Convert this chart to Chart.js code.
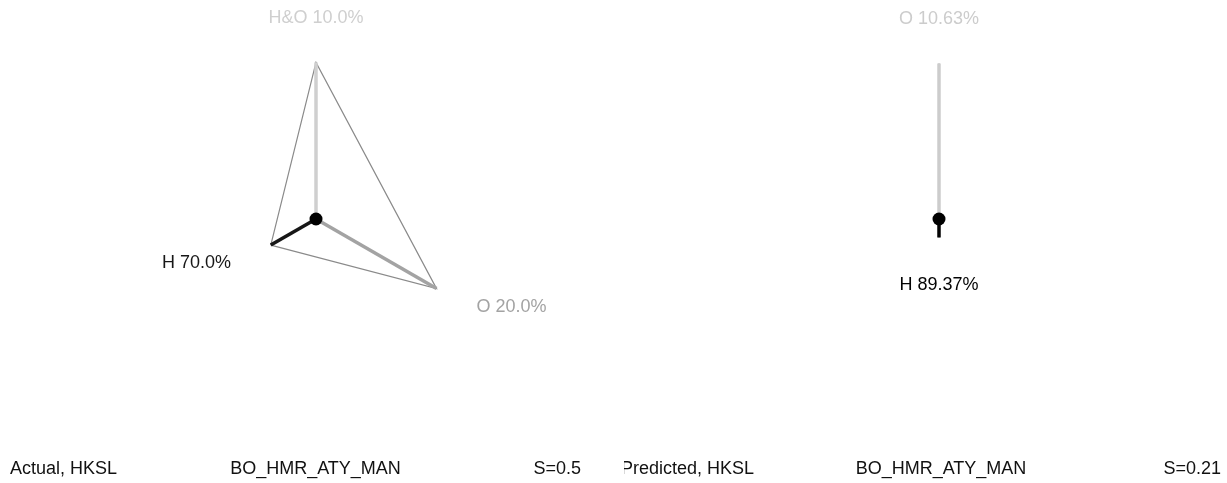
<!DOCTYPE html>
<html>
<head>
<meta charset="utf-8">
<script src="https://cdn.jsdelivr.net/npm/chart.js@4/dist/chart.umd.min.js"></script>
<style>
  html, body { margin: 0; padding: 0; background: #fff; }
  #wrap { position: relative; width: 1227px; height: 483px; overflow: hidden; }
  #wrap canvas { position: absolute; top: 0; }
</style>
</head>
<body>
<div id="wrap">
  <canvas id="actual" width="624" height="483" style="left:0"></canvas>
  <canvas id="predicted" width="603" height="483" style="left:624px"></canvas>
</div>
<script>
// Composition shares (percent) for each panel
const actualLabels = ['H', 'O', 'H&O'];
const actualShares = [70.0, 20.0, 10.0];
const actualDecimals = 1;
const actualCaption = ['Actual, HKSL', 'BO_HMR_ATY_MAN', 'S=0.5'];

const predictedLabels = ['H', 'O'];
const predictedShares = [89.37, 10.63];
const predictedDecimals = 2;
const predictedCaption = ['Predicted, HKSL', 'BO_HMR_ATY_MAN', 'S=0.21'];

const FONT = '"Liberation Sans", Arial, Helvetica, sans-serif';
const PX_PER_UNIT = 174;     // spoke length for a 0% share
const LABEL_GAP = 46;        // distance from spoke tip to its label

// Darker grey for larger shares
function greyFor(share) {
  const g = Math.round(255 * Math.pow(1 - share / 100, 2));
  return `rgb(${g},${g},${g})`;
}

// Evenly spaced directions, last category pointing straight up
function directions(n) {
  const out = [];
  for (let i = 0; i < n; i++) {
    const a = (90 - (n - 1 - i) * 360 / n) * Math.PI / 180;
    out.push({ x: Math.cos(a), y: Math.sin(a) });
  }
  return out;
}

function buildPanel(canvasId, labels, shares, decimals, caption, centerX, centerY, captionX) {
  const canvas = document.getElementById(canvasId);
  const w = canvas.width, h = canvas.height;
  const dirs = directions(labels.length);
  const tips = shares.map((s, i) => ({
    x: (1 - s / 100) * dirs[i].x,
    y: (1 - s / 100) * dirs[i].y
  }));

  const datasets = [];
  // centre marker
  datasets.push({
    data: [{ x: 0, y: 0 }],
    pointRadius: 6.5,
    pointBackgroundColor: '#000',
    pointBorderWidth: 0,
    showLine: false
  });
  // one spoke per category
  tips.forEach((t, i) => {
    datasets.push({
      data: [{ x: 0, y: 0 }, t],
      showLine: true,
      borderColor: greyFor(shares[i]),
      borderWidth: 3.5,
      borderCapStyle: 'butt',
      pointRadius: 0
    });
  });
  // outline through the spoke tips
  datasets.push({
    data: tips.concat([tips[0]]),
    showLine: true,
    borderColor: '#8a8a8a',
    borderWidth: 1.2,
    pointRadius: 0
  });

  const labelPlugin = {
    id: 'tipLabels',
    afterDatasetsDraw(chart) {
      const ctx = chart.ctx;
      const xs = chart.scales.x, ys = chart.scales.y;
      ctx.save();
      ctx.font = `18px ${FONT}`;
      tips.forEach((t, i) => {
        const vertical = Math.abs(dirs[i].x) < 0.01;
        const px = xs.getPixelForValue(t.x) + LABEL_GAP * dirs[i].x;
        const py = ys.getPixelForValue(t.y) - LABEL_GAP * dirs[i].y + (vertical ? 2 : 0);
        ctx.textAlign = vertical ? 'center' : (dirs[i].x < 0 ? 'right' : 'left');
        ctx.textBaseline = vertical ? 'middle' : 'alphabetic';
        ctx.fillStyle = greyFor(shares[i]);
        ctx.fillText(`${labels[i]} ${shares[i].toFixed(decimals)}%`, px, py);
      });
      // caption row
      ctx.fillStyle = '#111';
      ctx.textBaseline = 'middle';
      const cy = 469;
      ctx.textAlign = 'left';
      ctx.fillText(caption[0], captionX[0], cy);
      ctx.textAlign = 'center';
      ctx.fillText(caption[1], captionX[1], cy);
      ctx.textAlign = 'right';
      ctx.fillText(caption[2], captionX[2], cy);
      ctx.restore();
    }
  };

  return new Chart(canvas, {
    type: 'scatter',
    data: { datasets },
    options: {
      responsive: false,
      animation: false,
      events: [],
      layout: { padding: 0, autoPadding: false },
      plugins: { legend: { display: false }, tooltip: { enabled: false } },
      scales: {
        x: { type: 'linear', display: false,
             min: -centerX / PX_PER_UNIT, max: (w - centerX) / PX_PER_UNIT },
        y: { type: 'linear', display: false,
             min: -(h - centerY) / PX_PER_UNIT, max: centerY / PX_PER_UNIT }
      }
    },
    plugins: [labelPlugin]
  });
}

buildPanel('actual', actualLabels, actualShares, actualDecimals, actualCaption,
           316, 219, [10, 315.5, 581]);
buildPanel('predicted', predictedLabels, predictedShares, predictedDecimals, predictedCaption,
           315, 219, [-3, 317, 597]);
</script>
</body>
</html>
